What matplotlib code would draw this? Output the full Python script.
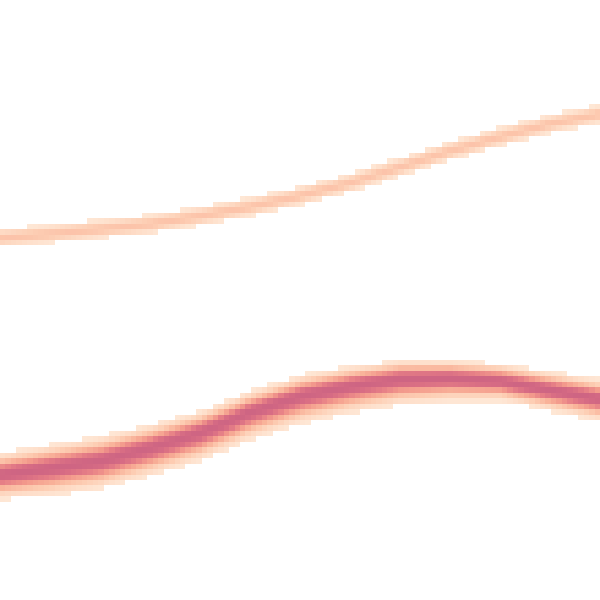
import numpy as np
import matplotlib
matplotlib.use("Agg")
from matplotlib import pyplot as plt
from matplotlib.colors import LinearSegmentedColormap

# curve guides (x, y in pixel-like units, y grows downward)
x_knots = [0, 50, 100, 150, 200, 250, 300, 350, 400, 450, 500, 550, 600]
top_center = [238, 234, 229, 224, 216, 207, 196, 183, 167, 151, 137, 124, 114]
top_spread = [4.8, 4.8, 4.8, 4.8, 4.8, 4.8, 4.8, 4.8, 4.8, 4.8, 4.8, 4.8, 4.8]
top_peak = 0.3
bottom_center = [475, 468, 461, 448, 433, 412, 396, 386, 379, 378, 381, 390, 399]
bottom_spread_up = [9, 9.5, 10, 9.5, 9, 8.5, 8.5, 8, 7.5, 7, 7, 7.5, 8]
bottom_spread_down = [10, 11.5, 11.5, 11.5, 11.5, 11.5, 11.5, 11, 10.5, 9.5, 8, 8.5, 9]
bottom_peak = 1.0

n_bins = 110
threshold = 0.045

edges = np.linspace(0, 600, n_bins + 1)
mids = (edges[:-1] + edges[1:]) / 2
gx, gy = np.meshgrid(mids, mids)


def band(center, up, down, peak):
    c = np.interp(gx, x_knots, center)
    su = np.interp(gx, x_knots, up)
    sd = np.interp(gx, x_knots, down)
    d = gy - c
    s = np.where(d < 0, su, sd)
    return peak * np.exp(-0.5 * (d / s) ** 2)


grid = band(top_center, top_spread, top_spread, top_peak)
grid = grid + band(bottom_center, bottom_spread_up, bottom_spread_down, bottom_peak)
grid = np.ma.masked_less(grid, threshold)

cmap = LinearSegmentedColormap.from_list(
    "peach", [(0.0, "#fee7d5"), (0.2, "#fdcdb3"), (0.38, "#f9b39a"),
              (0.55, "#f39a8c"), (0.72, "#e57d86"), (0.86, "#d86d84"),
              (1.0, "#ce6583")])
cmap.set_bad("white")

fig = plt.figure(figsize=(6, 6), dpi=100)
ax = fig.add_axes([0, 0, 1, 1])
ax.pcolormesh(edges, edges, grid, cmap=cmap, vmin=threshold, vmax=1.0)
ax.set_xlim(0, 600)
ax.set_ylim(600, 0)
ax.axis("off")
fig.savefig("out.png", dpi=100, facecolor="white")
